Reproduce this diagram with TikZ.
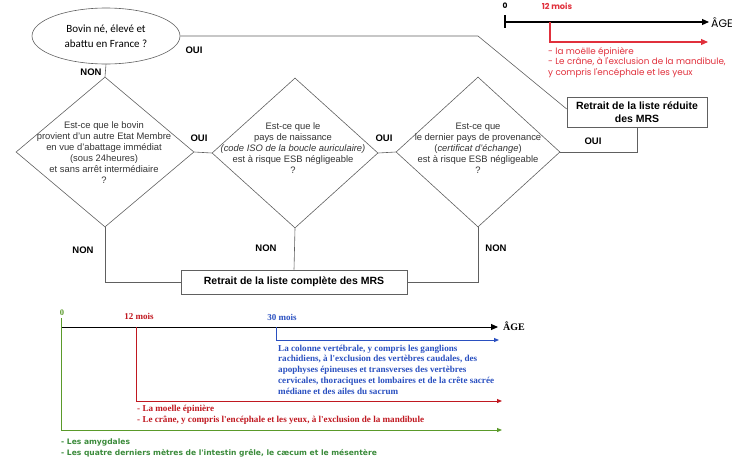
\documentclass[tikz,border=0pt]{standalone}
\usepackage{fontspec}
\setmainfont{Liberation Sans}
\newfontfamily\calib{Carlito}
\newfontfamily\popp{Poppins}
\newfontfamily\tms{Liberation Serif}
\newfontfamily\dejav{DejaVu Sans}
\usetikzlibrary{shapes.geometric,arrows.meta,calc}
\definecolor{linegray}{HTML}{606060}
\definecolor{txtgray}{HTML}{333333}
\definecolor{topred}{HTML}{E0303C}
\definecolor{botred}{HTML}{C01820}
\definecolor{botblue}{HTML}{2A50C0}
\definecolor{botgreen}{HTML}{5A9A2A}
\definecolor{txtgreen}{HTML}{3A8A3A}
\tikzset{
  conn/.style={draw=linegray, line width=0.6pt},
  dia/.style={shape=diamond, draw=linegray, line width=0.6pt, minimum width=#1, minimum height=150pt, inner sep=0pt},
  diatext/.style={align=center, text=txtgray, font=\fontsize{9.4}{11}\selectfont, inner sep=0pt},
  retbox/.style={draw=linegray, line width=0.8pt, fill=white, align=center, font=\bfseries\fontsize{10.5}{13}\selectfont, inner sep=0pt},
  lab/.style={font=\bfseries\fontsize{9.5}{11}\selectfont, inner sep=0pt},
  ax/.style={line width=1.1pt, -{Triangle[length=7pt,width=6pt]}},
}
\begin{document}
\begin{tikzpicture}[x=1pt,y=-1pt]
\useasboundingbox (0,0) rectangle (747,474);
% ---- flowchart ----
\node[ellipse, draw=linegray, line width=0.6pt, minimum width=148pt, minimum height=56pt, inner sep=0pt, align=center, font=\calib\fontsize{11}{15}\selectfont] (e) at (106,36) {Bovin né, élevé et\\abattu en France ?};
\node[dia=178pt] (d1) at (105,152) {};
\node[diatext] (t1) at (104,153) {Est-ce que le bovin\\provient d'un autre Etat Membre\\en vue d'abattage immédiat\\(sous 24heures)\\et sans arrêt intermédiaire\\?};
\node[dia=166pt] (d2) at (295,153) {};
\node[diatext] (t2) at (293,148) {Est-ce que le\\pays de naissance\\\textit{(code ISO de la boucle auriculaire)}\\est à risque ESB négligeable\\?};
\node[dia=164pt] (d3) at (478,152) {};
\node[diatext] (t3) at (478,148) {Est-ce que\\le dernier pays de provenance\\(\textit{certificat d'échange})\\est à risque ESB négligeable\\?};
\node[retbox, minimum width=140pt, minimum height=30pt] (r1) at (637,112) {Retrait de la liste réduite\\des MRS};
\node[retbox, minimum width=226pt, minimum height=24pt] (c) at (294,282) {Retrait de la liste complète des MRS};
\coordinate (bend) at (478,36);
\draw[conn] (e.east) -- (bend) -- ($(r1.north west)!0.4!(r1.south west)$);
\draw[conn] (e.south) -- (d1.north);
\draw[conn] (d1.east) -- (d2.west);
\draw[conn] (d2.east) -- (d3.west);
\draw[conn] (d3.east) -| (r1.south);
\draw[conn] (d1.south) |- (c.west);
\draw[conn] (d2.south) -- (c.north);
\draw[conn] (d3.south) |- (c.east);
\node[lab] (o0) at (194,50) {OUI};
\node[lab] (n0) at (91,72) {NON};
\node[lab] (o1) at (199,138) {OUI};
\node[lab] (o2) at (384,138) {OUI};
\node[lab] (o3) at (593,141) {OUI};
\node[lab] (n1) at (83,250) {NON};
\node[lab] (n2) at (266,248) {NON};
\node[lab] (n3) at (496,248) {NON};
% ---- top timeline ----
\coordinate (a0) at (505,22);
\coordinate (a1) at (709,22);
\draw[ax] (a0) -- (a1);
\draw[line width=1.1pt] (505,15) -- (505,28);
\node[font=\bfseries\popp\fontsize{7.5}{8}\selectfont, inner sep=0pt] (z0) at (505,6) {0};
\node[font=\popp\fontsize{11}{12}\selectfont, anchor=west, inner sep=0pt] (age1) at (711,22.5) {ÂGE};
\node[font=\bfseries\popp\fontsize{8.2}{9}\selectfont, text=topred, inner sep=0pt] (m12a) at (557,6) {12 mois};
\coordinate (ra) at (550,22);
\coordinate (rb) at (550,42);
\coordinate (rc) at (708,42);
\draw[topred, line width=1.1pt, -{Triangle[length=7pt,width=6pt]}] (ra) -- (rb) -- (rc);
\node[font=\popp\fontsize{8.8}{10.6}\selectfont, text=topred, align=left, anchor=north west, inner sep=0pt] (redtop) at (548,47) {- la moëlle épinière\\- Le crâne, à l'exclusion de la mandibule,\\y compris l'encéphale et les yeux};
% ---- bottom timeline ----
\coordinate (b0) at (61,327);
\coordinate (b1) at (498,327);
\draw[ax, line width=1pt] (b0) -- (b1);
\node[font=\tms\bfseries\fontsize{10}{12}\selectfont, anchor=west, inner sep=0pt] (age2) at (503,326) {ÂGE};
\node[font=\tms\bfseries\fontsize{8.5}{9}\selectfont, text=botgreen, inner sep=0pt] (zb) at (62,313) {0};
\node[font=\tms\bfseries\fontsize{9}{10}\selectfont, text=botred, inner sep=0pt] (m12b) at (139,316) {12 mois};
\node[font=\tms\bfseries\fontsize{9}{10}\selectfont, text=botblue, inner sep=0pt] (m30) at (282,317) {30 mois};
\coordinate (g0) at (61,318);
\coordinate (g1) at (61,430);
\coordinate (g2) at (502,430);
\draw[botgreen, line width=1pt, -{Triangle[length=5pt,width=4pt]}] (g0) -- (g1) -- (g2);
\coordinate (rr0) at (136,327);
\coordinate (rr1) at (136,401);
\coordinate (rr2) at (502,401);
\draw[botred, line width=1pt, -{Triangle[length=5pt,width=4pt]}] (rr0) -- (rr1) -- (rr2);
\coordinate (bb0) at (276,327);
\coordinate (bb1) at (276,340);
\coordinate (bb2) at (499,340);
\draw[botblue, line width=1pt, -{Triangle[length=5pt,width=4pt]}] (bb0) -- (bb1) -- (bb2);
\node[font=\tms\bfseries\fontsize{9.1}{10.8}\selectfont, text=botblue, align=left, anchor=north west, inner sep=0pt] (bluetxt) at (278,344.5) {La colonne vertébrale, y compris les ganglions\\rachidiens, à l'exclusion des vertèbres caudales, des\\apophyses épineuses et transverses des vertèbres\\cervicales, thoraciques et lombaires et de la crête sacrée\\médiane et des ailes du sacrum};
\node[font=\tms\bfseries\fontsize{9.1}{11}\selectfont, text=botred, align=left, anchor=north west, inner sep=0pt] (redbot) at (137,404.5) {- La moelle épinière\\- Le crâne, y compris l'encéphale et les yeux, à l'exclusion de la mandibule};
\node[font=\dejav\bfseries\fontsize{7.55}{11}\selectfont, text=txtgreen, align=left, anchor=north west, inner sep=0pt] (greentxt) at (61,439) {- Les amygdales\\- Les quatre derniers mètres de l'intestin grêle, le cæcum et le mésentère};
\end{tikzpicture}
\end{document}
